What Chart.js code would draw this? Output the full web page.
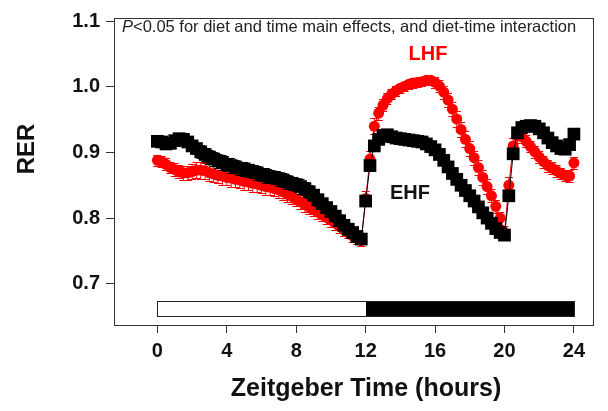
<!DOCTYPE html>
<html>
<head>
<meta charset="utf-8">
<title>RER by diet</title>
<script src="https://cdn.jsdelivr.net/npm/chart.js@4.4.1/dist/chart.umd.min.js"></script>
<style>
  html, body { margin: 0; padding: 0; background: #fff; }
  #wrap { width: 608px; height: 411px; }
</style>
</head>
<body>
<div id="wrap"><canvas id="rer-chart" width="608" height="411"></canvas></div>
<script>
/*------------------
    Data (15 min bins, ZT0 - ZT24)
--------------------*/
var hours = Array.from({ length: 97 }, function (_, i) { return i / 4; });

var ehfRer = [
  0.917, 0.916, 0.913, 0.914, 0.918, 0.921, 0.920, 0.916, 0.910, 0.906,
  0.901, 0.897, 0.893, 0.890, 0.887, 0.885, 0.882, 0.880, 0.878, 0.876,
  0.875, 0.873, 0.871, 0.869, 0.866, 0.865, 0.863, 0.862, 0.860, 0.858,
  0.855, 0.853, 0.851, 0.848, 0.845, 0.840, 0.835, 0.828, 0.822, 0.816,
  0.810, 0.803, 0.796, 0.789, 0.783, 0.778, 0.772, 0.768, 0.826, 0.880,
  0.910, 0.920, 0.926, 0.927, 0.924, 0.922, 0.921, 0.920, 0.919, 0.918,
  0.917, 0.916, 0.913, 0.909, 0.904, 0.897, 0.888, 0.878, 0.868, 0.859,
  0.850, 0.842, 0.834, 0.826, 0.817, 0.808, 0.800, 0.792, 0.784, 0.778,
  0.774, 0.834, 0.898, 0.930, 0.938, 0.940, 0.941, 0.940, 0.936, 0.930,
  0.922, 0.915, 0.910, 0.906, 0.905, 0.912, 0.928
];
var ehfSem = [
  0.006, 0.006, 0.006, 0.007, 0.007, 0.007, 0.007, 0.008, 0.008, 0.009,
  0.010, 0.010, 0.011, 0.010, 0.010, 0.011, 0.010, 0.011, 0.010, 0.010,
  0.011, 0.010, 0.010, 0.011, 0.010, 0.011, 0.010, 0.010, 0.011, 0.010,
  0.011, 0.010, 0.010, 0.011, 0.010, 0.010, 0.009, 0.009, 0.008, 0.008,
  0.008, 0.008, 0.007, 0.007, 0.007, 0.007, 0.007, 0.007, 0.008, 0.008,
  0.008, 0.007, 0.006, 0.006, 0.006, 0.006, 0.006, 0.006, 0.006, 0.006,
  0.006, 0.006, 0.006, 0.007, 0.007, 0.007, 0.007, 0.007, 0.007, 0.007,
  0.007, 0.007, 0.007, 0.007, 0.007, 0.007, 0.007, 0.007, 0.007, 0.007,
  0.007, 0.008, 0.008, 0.008, 0.007, 0.006, 0.006, 0.006, 0.006, 0.006,
  0.006, 0.006, 0.006, 0.006, 0.006, 0.006, 0.006
];

var lhfRer = [
  0.888, 0.886, 0.882, 0.877, 0.874, 0.871, 0.869, 0.869, 0.871, 0.873,
  0.873, 0.872, 0.869, 0.867, 0.865, 0.864, 0.862, 0.861, 0.859, 0.858,
  0.856, 0.855, 0.853, 0.852, 0.850, 0.848, 0.847, 0.845, 0.843, 0.840,
  0.836, 0.833, 0.829, 0.825, 0.821, 0.817, 0.813, 0.809, 0.805, 0.801,
  0.797, 0.792, 0.787, 0.782, 0.778, 0.773, 0.769, 0.766, 0.830, 0.890,
  0.940, 0.960, 0.972, 0.982, 0.989, 0.994, 0.998, 1.001, 1.004, 1.006,
  1.007, 1.008, 1.010, 1.010, 1.007, 1.001, 0.992, 0.980, 0.966, 0.951,
  0.935, 0.920, 0.906, 0.892, 0.877, 0.862, 0.848, 0.834, 0.818, 0.800,
  0.778, 0.850, 0.910, 0.925, 0.924, 0.917, 0.909, 0.901, 0.893, 0.886,
  0.880, 0.876, 0.872, 0.868, 0.865, 0.864, 0.884
];
var lhfSem = [
  0.008, 0.008, 0.009, 0.009, 0.010, 0.010, 0.011, 0.011, 0.012, 0.012,
  0.013, 0.012, 0.013, 0.012, 0.012, 0.013, 0.012, 0.013, 0.012, 0.012,
  0.013, 0.012, 0.013, 0.012, 0.012, 0.013, 0.012, 0.012, 0.013, 0.012,
  0.012, 0.012, 0.011, 0.011, 0.011, 0.011, 0.010, 0.010, 0.010, 0.010,
  0.010, 0.010, 0.009, 0.009, 0.009, 0.009, 0.009, 0.009, 0.012, 0.012,
  0.012, 0.010, 0.009, 0.008, 0.008, 0.008, 0.007, 0.007, 0.007, 0.007,
  0.007, 0.007, 0.007, 0.007, 0.008, 0.009, 0.010, 0.011, 0.011, 0.012,
  0.012, 0.012, 0.012, 0.011, 0.011, 0.011, 0.011, 0.010, 0.010, 0.010,
  0.010, 0.012, 0.012, 0.011, 0.009, 0.009, 0.009, 0.009, 0.009, 0.009,
  0.009, 0.009, 0.009, 0.009, 0.009, 0.009, 0.009
];

var xTicks = [0, 4, 8, 12, 16, 20, 24];
var yTicks = [0.7, 0.8, 0.9, 1.0, 1.1];
var lightPhase = [0, 12];
var darkPhase = [12, 24];
var phaseBarRange = [0.650, 0.673];

var FONT = "'Liberation Sans', Arial, sans-serif";
Chart.defaults.font.family = FONT;

function toPoints(values) {
  return values.map(function (v, i) { return { x: hours[i], y: v }; });
}

/*--------------------------------
    Error bars (SEM), under each series
----------------------------------*/
var errorBars = {
  id: 'errorBars',
  beforeDatasetDraw: function (chart, args) {
    var ds = chart.data.datasets[args.index];
    if (!ds.sem) return;
    var ctx = chart.ctx, y = chart.scales.y;
    ctx.save();
    ctx.strokeStyle = ds.borderColor;
    ctx.lineWidth = 1;
    args.meta.data.forEach(function (pt, i) {
      var v = ds.data[i].y, e = ds.sem[i];
      var top = Math.round(y.getPixelForValue(v + e)) + 0.5;
      var bot = Math.round(y.getPixelForValue(v - e)) + 0.5;
      ctx.beginPath();
      ctx.moveTo(pt.x, top); ctx.lineTo(pt.x, bot);
      ctx.moveTo(pt.x - 4, top); ctx.lineTo(pt.x + 4, top);
      ctx.moveTo(pt.x - 4, bot); ctx.lineTo(pt.x + 4, bot);
      ctx.stroke();
    });
    ctx.restore();
  }
};

/*--------------------------------
    Frame, light/dark bar and labels
----------------------------------*/
var frameAndLabels = {
  id: 'frameAndLabels',
  beforeDatasetsDraw: function (chart) {
    var ctx = chart.ctx, a = chart.chartArea;
    var x = chart.scales.x, y = chart.scales.y;
    ctx.save();

    ctx.strokeStyle = '#333';
    ctx.lineWidth = 1;
    ctx.strokeRect(a.left + 0.5, a.top + 0.5, a.right - a.left, a.bottom - a.top);

    var top = Math.round(y.getPixelForValue(phaseBarRange[1]));
    var bot = Math.round(y.getPixelForValue(phaseBarRange[0]));
    var x0 = Math.round(x.getPixelForValue(lightPhase[0]));
    var x1 = Math.round(x.getPixelForValue(lightPhase[1]));
    var x2 = Math.round(x.getPixelForValue(darkPhase[1]));
    ctx.fillStyle = '#fff';
    ctx.fillRect(x0, top, x1 - x0, bot - top);
    ctx.fillStyle = '#000';
    ctx.fillRect(x1, top, x2 - x1, bot - top);
    ctx.strokeStyle = '#222';
    ctx.strokeRect(x0 + 0.5, top + 0.5, x2 - x0, bot - top);

    // stats note
    ctx.fillStyle = '#222';
    ctx.textBaseline = 'alphabetic';
    ctx.textAlign = 'left';
    ctx.font = 'italic 16.5px ' + FONT;
    ctx.fillText('P', 122, 32);
    var w = ctx.measureText('P').width;
    ctx.font = '16.5px ' + FONT;
    ctx.fillText('<0.05 for diet and time main effects, and diet-time interaction', 122 + w, 32);

    // series labels
    ctx.textAlign = 'center';
    ctx.font = 'bold 20px ' + FONT;
    ctx.fillStyle = '#ff0000';
    ctx.fillText('LHF', 428, 60);
    ctx.fillStyle = '#111';
    ctx.fillText('EHF', 410, 199);

    // axis titles
    ctx.font = 'bold 25px ' + FONT;
    ctx.fillText('Zeitgeber Time (hours)', 366, 396);
    ctx.translate(34, 149);
    ctx.rotate(-Math.PI / 2);
    ctx.font = 'bold 24px ' + FONT;
    ctx.fillText('RER', 0, 0);

    ctx.restore();
  }
};

var rerChart = new Chart(document.getElementById('rer-chart'), {
  type: 'scatter',
  data: {
    datasets: [
      {
        label: 'EHF',
        data: toPoints(ehfRer),
        sem: ehfSem,
        showLine: true,
        borderColor: '#000',
        borderWidth: 1,
        backgroundColor: '#000',
        pointStyle: 'rect',
        pointRadius: 9,
        pointBorderWidth: 0,
        pointHoverRadius: 9
      },
      {
        label: 'LHF',
        data: toPoints(lhfRer),
        sem: lhfSem,
        showLine: true,
        borderColor: '#ff0000',
        borderWidth: 1,
        backgroundColor: '#ff0000',
        pointStyle: 'circle',
        pointRadius: 5.5,
        pointBorderWidth: 0,
        pointHoverRadius: 5.5
      }
    ]
  },
  options: {
    responsive: false,
    animation: false,
    layout: { padding: { left: 0, right: 15, top: 15, bottom: 0 } },
    plugins: {
      legend: { display: false },
      tooltip: { enabled: false }
    },
    scales: {
      x: {
        type: 'linear',
        min: -2.5,
        max: 25.1,
        afterBuildTicks: function (scale) {
          scale.ticks = xTicks.map(function (v) { return { value: v }; });
        },
        afterFit: function (scale) { scale.height = 86; },
        grid: { drawOnChartArea: false, tickLength: 8, color: '#333' },
        border: { display: true, color: '#333' },
        ticks: {
          color: '#111',
          padding: 6,
          maxRotation: 0,
          font: { size: 20, weight: 'bold' }
        }
      },
      y: {
        min: 0.637,
        max: 1.105,
        afterBuildTicks: function (scale) {
          scale.ticks = yTicks.map(function (v) { return { value: v }; });
        },
        afterFit: function (scale) { scale.width = 114; },
        grid: { drawOnChartArea: false, tickLength: 8, color: '#333' },
        border: { display: true, color: '#333' },
        ticks: {
          color: '#111',
          padding: 6,
          font: { size: 20, weight: 'bold' },
          callback: function (v) { return v.toFixed(1); }
        }
      }
    }
  },
  plugins: [frameAndLabels, errorBars]
});
</script>
</body>
</html>
